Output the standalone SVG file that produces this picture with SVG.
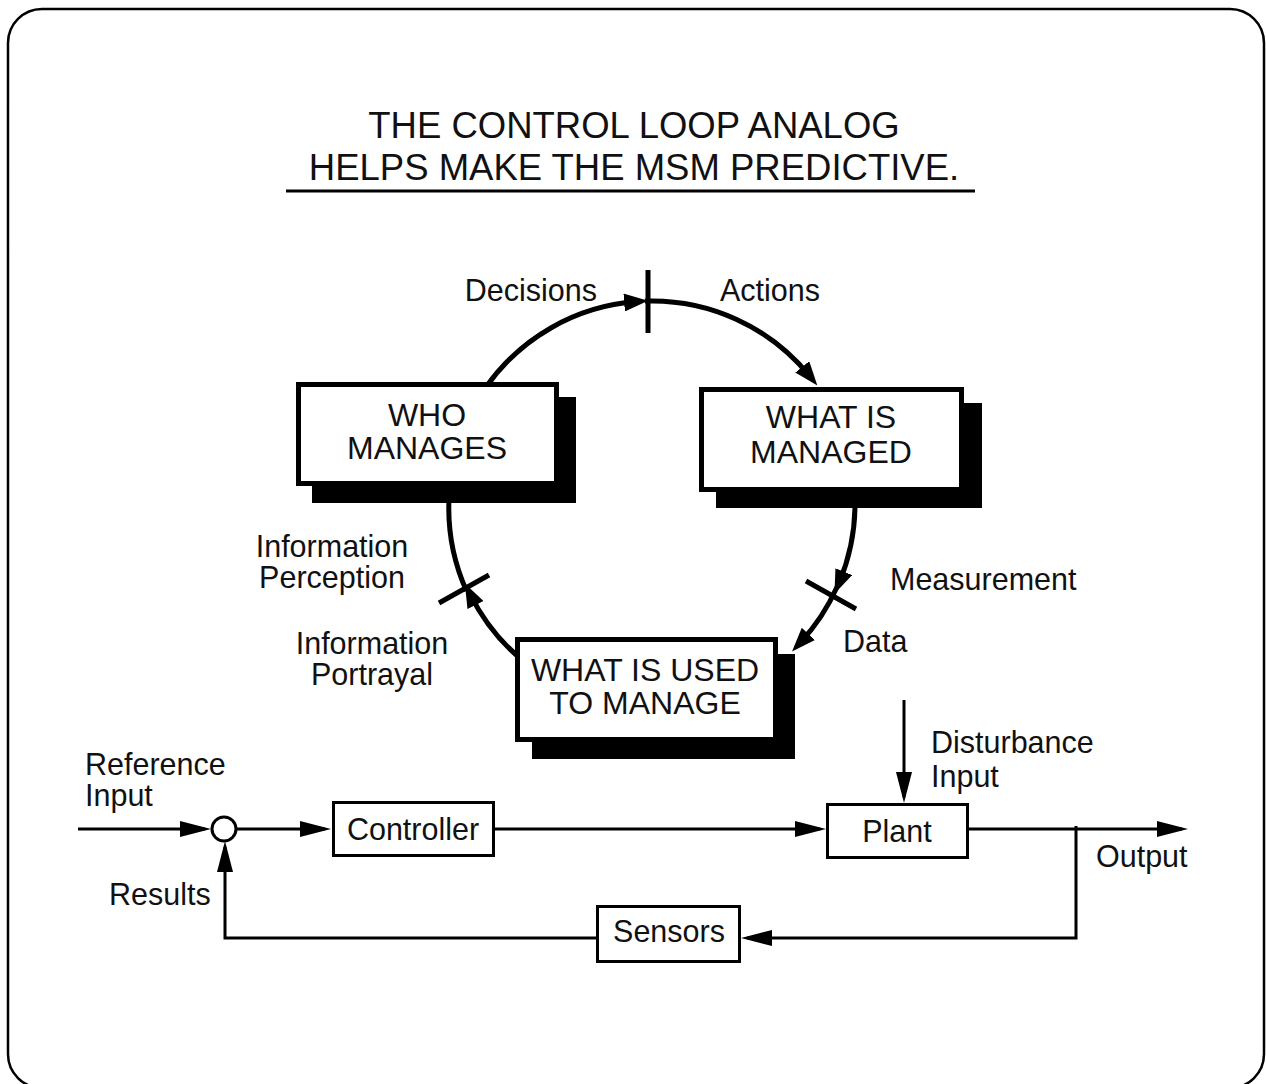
<svg xmlns="http://www.w3.org/2000/svg" width="1266" height="1084" viewBox="0 0 1266 1084">
  <style>
    text { font-family: "Liberation Sans", Arial, Helvetica, sans-serif; fill: #111; }
    .title { font-size: 36.5px; text-anchor: middle; }
    .lbl { font-size: 30.5px; }
    .mid { text-anchor: middle; }
    .end { text-anchor: end; }
    .boxtxt { font-size: 32px; text-anchor: middle; }
    .arc { fill: none; stroke: #000; stroke-width: 5; }
    .tick { stroke: #000; stroke-width: 5; }
    .wire { fill: none; stroke: #000; stroke-width: 3; }
    .bigbox { fill: #fff; stroke: #000; stroke-width: 5; }
    .shadow { fill: #000; }
    .blk { fill: #fff; stroke: #000; stroke-width: 3; }
  </style>
  <defs>
    <marker id="arcHead" markerUnits="userSpaceOnUse" viewBox="0 0 24 18" markerWidth="24" markerHeight="18" refX="12" refY="9" orient="auto">
      <path d="M0,0 L24,9 L0,18 z" fill="#000"/>
    </marker>
    <marker id="wireHead" markerUnits="userSpaceOnUse" viewBox="0 0 31 16" markerWidth="31" markerHeight="16" refX="25" refY="8" orient="auto">
      <path d="M0,0 L31,8 L0,16 z" fill="#000"/>
    </marker>
  </defs>

  <!-- outer frame -->
  <rect x="8" y="9" width="1256" height="1079" rx="34" ry="34" fill="#fff" stroke="#000" stroke-width="2.5"/>

  <!-- heading -->
  <g id="title">
    <text class="title" x="634" y="138">THE CONTROL LOOP ANALOG</text>
    <text class="title" x="634" y="180">HELPS MAKE THE MSM PREDICTIVE.</text>
    <line x1="286" y1="191" x2="975" y2="191" stroke="#000" stroke-width="3"/>
  </g>

  <!-- connectors: management cycle arcs and control-loop wires -->
  <g id="connectors">
    <!-- cycle: circle centre (652,504), r=203 -->
    <path class="arc" d="M485.7,387.5 A203,203 0 0 1 636.1,301.6" marker-end="url(#arcHead)"/>
    <path class="arc" d="M644.9,301.1 A203,203 0 0 1 809.8,376.2" marker-end="url(#arcHead)"/>
    <path class="arc" d="M854.7,493.4 A203,203 0 0 1 839.1,582.7" marker-end="url(#arcHead)"/>
    <path class="arc" d="M837,587 A203,203 0 0 1 800.2,642.7" marker-end="url(#arcHead)"/>
    <path class="arc" d="M527,664 A203,203 0 0 1 470.2,594.3" marker-end="url(#arcHead)"/>
    <path class="arc" d="M466.5,591 A203,203 0 0 1 449.1,496.9"/>
    <!-- stage ticks -->
    <line class="tick" x1="648" y1="270" x2="648" y2="333"/>
    <line class="tick" x1="806" y1="581" x2="856" y2="609"/>
    <line class="tick" x1="439" y1="603" x2="489" y2="575"/>

    <!-- control loop wiring -->
    <path class="wire" d="M78,829 H205" marker-end="url(#wireHead)"/>
    <path class="wire" d="M236,829 H325" marker-end="url(#wireHead)"/>
    <path class="wire" d="M495,829 H820" marker-end="url(#wireHead)"/>
    <path class="wire" d="M904,700 V797" marker-end="url(#wireHead)"/>
    <path class="wire" d="M969,829 H1182" marker-end="url(#wireHead)"/>
    <path class="wire" d="M1076,826 V938 H747" marker-end="url(#wireHead)"/>
    <path class="wire" d="M596,938 H225 V847" marker-end="url(#wireHead)"/>
  </g>

  <!-- cycle nodes -->
  <g id="who-manages">
    <rect class="shadow" x="312" y="397" width="264" height="106"/>
    <rect class="bigbox" x="298.5" y="384.5" width="258" height="99"/>
    <text class="boxtxt" x="427" y="426">WHO</text>
    <text class="boxtxt" x="427" y="459">MANAGES</text>
  </g>
  <g id="what-is-managed">
    <rect class="shadow" x="716" y="403" width="266" height="105"/>
    <rect class="bigbox" x="701.5" y="389.5" width="260" height="100"/>
    <text class="boxtxt" x="831" y="428">WHAT IS</text>
    <text class="boxtxt" x="831" y="463">MANAGED</text>
  </g>
  <g id="what-is-used">
    <rect class="shadow" x="532" y="654" width="263" height="105"/>
    <rect class="bigbox" x="517.5" y="639.5" width="258" height="100"/>
    <text class="boxtxt" x="645" y="681">WHAT IS USED</text>
    <text class="boxtxt" x="645" y="714">TO MANAGE</text>
  </g>

  <!-- cycle labels -->
  <g id="cycle-labels">
    <text class="lbl end" x="597" y="301">Decisions</text>
    <text class="lbl" x="720" y="301">Actions</text>
    <text class="lbl mid" x="332" y="557">Information</text>
    <text class="lbl mid" x="332" y="588">Perception</text>
    <text class="lbl mid" x="372" y="654">Information</text>
    <text class="lbl mid" x="372" y="685">Portrayal</text>
    <text class="lbl" x="890" y="590">Measurement</text>
    <text class="lbl" x="843" y="652">Data</text>
  </g>

  <!-- control loop nodes -->
  <g id="summing-junction">
    <circle cx="224" cy="829" r="12" fill="#fff" stroke="#000" stroke-width="3"/>
  </g>
  <g id="controller">
    <rect class="blk" x="333.5" y="802.5" width="160" height="53"/>
    <text class="lbl mid" x="413" y="840">Controller</text>
  </g>
  <g id="plant">
    <rect class="blk" x="827.5" y="804.5" width="140" height="53"/>
    <text class="lbl mid" x="897" y="842">Plant</text>
  </g>
  <g id="sensors">
    <rect class="blk" x="597.5" y="906.5" width="142" height="55"/>
    <text class="lbl mid" x="669" y="942">Sensors</text>
  </g>

  <!-- control loop labels -->
  <g id="loop-labels">
    <text class="lbl" x="85" y="775">Reference</text>
    <text class="lbl" x="85" y="806">Input</text>
    <text class="lbl" x="109" y="905">Results</text>
    <text class="lbl" x="931" y="753">Disturbance</text>
    <text class="lbl" x="931" y="787">Input</text>
    <text class="lbl" x="1096" y="867">Output</text>
  </g>
</svg>
